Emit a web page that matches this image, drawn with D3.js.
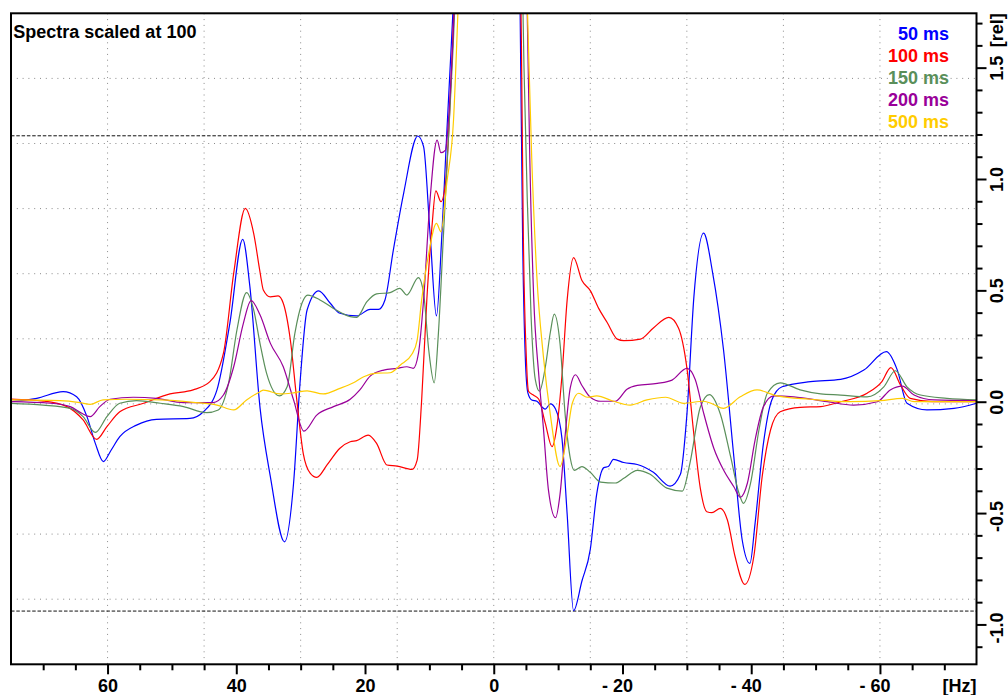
<!DOCTYPE html>
<html><head><meta charset="utf-8">
<script src="https://cdn.jsdelivr.net/npm/d3@7"></script>
<style>
body{margin:0;background:#fff}
svg text{font-family:"Liberation Sans",Arial,Helvetica,sans-serif;font-weight:bold}
</style>
</head><body>
<svg id="c" width="1008" height="695"></svg>
<script>
// ---------- data ----------
const hzDomain = [75, -75];
const relDomain = [-1.179, 1.744];
const xTickValues = [60, 40, 20, 0, -20, -40, -60];
const xTickLabels = ["60", "40", "20", "0", "- 20", "- 40", "- 60"];
const xMinorTicks = [70,65,55,50,45,35,30,25,15,10,5,-5,-10,-15,-25,-30,-35,-45,-50,-55,-65,-70];
const xGridValues = [60, 45, 30, 15, 0, -15, -30, -45, -60];
const yTickValues = [1.5, 1.0, 0.5, 0.0, -0.5, -1.0];
const yTickLabels = ["1.5", "1.0", "0.5", "0.0", "-0.5", "-1.0"];
const thresholds = [1.194, -0.940];
const seriesNames = ["50 ms", "100 ms", "150 ms", "200 ms", "500 ms"];
const seriesColors = ["#0000ff", "#ff0000", "#5a8f5a", "#990099", "#ffcc00"];
const titleText = "Spectra scaled at 100";

const s50 = [[75,0.0],[71,0.015],[66.9,0.045],[64.8,0.022],[63.2,-0.067],[61.9,-0.187],[60.65,-0.269],[59.5,-0.22],[58.1,-0.157],[55.5,-0.105],[52.4,-0.079],[47.2,-0.075],[45.1,-0.045],[43.0,0.053],[41.0,0.352],[39.0,0.729],[37.9,0.52],[36.3,-0.03],[34.7,-0.337],[32.5,-0.629],[31.1,-0.366],[30.1,0.083],[29.0,0.412],[27.2,0.498],[25.4,0.442],[23.9,0.397],[21.3,0.385],[19.2,0.415],[17.9,0.415],[16.9,0.457],[15.6,0.681],[14.0,0.936],[11.8,1.193],[10.9,1.145],[9.9,0.756],[8.9,0.385],[8.05,0.756],[7.3,1.205],[6.6,1.6],[5.5,2.3],[3,5],[0,9],[-3,5],[-3.8,2.4],[-4.1,1.745],[-4.5,0.7],[-4.9,0.2],[-5.3,0.04],[-5.9,0.008],[-6.7,0.002],[-8.0,-0.033],[-8.8,-0.010],[-9.6,-0.033],[-10.6,-0.166],[-11.4,-0.503],[-12.4,-0.938],[-13.7,-0.805],[-15.0,-0.663],[-16.0,-0.414],[-17.1,-0.296],[-17.8,-0.291],[-18.6,-0.259],[-20.2,-0.273],[-22.3,-0.282],[-24.8,-0.317],[-27.4,-0.379],[-29.0,-0.326],[-30.0,-0.060],[-31.1,0.473],[-32.6,0.757],[-34.0,0.58],[-35.7,0.232],[-37.3,-0.247],[-38.6,-0.621],[-39.8,-0.726],[-40.6,-0.546],[-41.9,-0.187],[-43.2,0.008],[-44.8,0.067],[-49.2,0.090],[-53.9,0.100],[-57.5,0.142],[-61.0,0.225],[-62.7,0.142],[-64.2,-0.007],[-67.3,-0.037],[-71.5,-0.030],[-75,-0.007]];

const s100 = [[75,0.012],[70,0.003],[66.3,-0.022],[63.8,-0.082],[61.7,-0.169],[60.1,-0.112],[58.1,-0.045],[54.4,-0.007],[50.3,0.035],[46.7,0.053],[44.1,0.090],[42.0,0.217],[40.4,0.577],[38.6,0.868],[37.3,0.756],[36.3,0.58],[35.8,0.502],[34.7,0.471],[33.5,0.475],[32.7,0.442],[31.6,0.277],[30.6,0.008],[29.6,-0.232],[28.5,-0.322],[27.5,-0.340],[25.9,-0.284],[23.9,-0.209],[22.3,-0.180],[21.3,-0.175],[19.5,-0.150],[18.2,-0.187],[16.6,-0.284],[15.0,-0.289],[12.7,-0.304],[11.9,-0.262],[11.2,0.008],[10.4,0.457],[9.6,0.786],[9.0,0.947],[8.2,0.898],[7.5,0.981],[7.0,1.205],[6.4,1.6],[5.5,2.3],[3,5],[0,9],[-3,5],[-4.0,2.3],[-4.3,1.6],[-4.6,0.739],[-5.05,0.207],[-5.4,0.047],[-6.2,0.029],[-7.0,0.011],[-8.0,-0.096],[-9.05,-0.202],[-9.8,-0.113],[-10.6,0.118],[-11.4,0.455],[-12.4,0.647],[-13.7,0.544],[-15.0,0.499],[-16.3,0.419],[-17.6,0.357],[-19.2,0.281],[-20.2,0.274],[-22.8,0.281],[-24.8,0.331],[-27.2,0.379],[-28.7,0.331],[-30.0,0.153],[-31.1,-0.149],[-32.1,-0.39],[-33.1,-0.494],[-33.9,-0.498],[-35.2,-0.479],[-36.3,-0.531],[-37.5,-0.696],[-39.0,-0.820],[-40.4,-0.696],[-41.7,-0.337],[-43.0,-0.127],[-44.5,-0.045],[-47.6,-0.025],[-50.8,-0.022],[-53.9,0.0],[-58.0,0.038],[-60.3,0.090],[-61.7,0.153],[-63.2,0.075],[-64.7,0.015],[-68.4,0.0],[-75,0.0]];

const s150 = [[75,-0.007],[70,-0.015],[65.8,-0.030],[63.8,-0.067],[61.9,-0.138],[60.1,-0.067],[58.1,-0.007],[55.5,0.005],[51.8,-0.007],[48.2,-0.022],[44.6,-0.049],[42.8,-0.037],[41.2,0.083],[39.9,0.322],[38.4,0.490],[37.3,0.412],[36.3,0.26],[35.3,0.128],[33.3,0.026],[32.1,0.067],[30.9,0.307],[29.8,0.442],[28.9,0.479],[27.0,0.457],[24.9,0.419],[22.3,0.382],[21.3,0.379],[19.7,0.449],[18.2,0.484],[16.1,0.490],[14.6,0.509],[13.5,0.479],[11.7,0.557],[10.9,0.487],[10.1,0.232],[9.25,0.085],[8.6,0.307],[7.8,0.756],[7.0,1.205],[6.3,1.6],[5.3,2.3],[3,5],[0,9],[-3,5],[-4.2,2.3],[-4.7,1.5],[-5.2,0.916],[-5.8,0.384],[-6.45,0.100],[-7.1,0.047],[-8.0,0.153],[-8.8,0.313],[-9.4,0.393],[-10.3,0.260],[-11.1,-0.060],[-11.9,-0.255],[-12.5,-0.308],[-13.7,-0.291],[-15.0,-0.317],[-16.6,-0.361],[-18.9,-0.365],[-20.2,-0.344],[-22.3,-0.308],[-24.3,-0.326],[-26.9,-0.388],[-29.3,-0.401],[-30.5,-0.273],[-32.1,-0.024],[-33.5,0.032],[-35.2,-0.055],[-36.8,-0.247],[-38.1,-0.411],[-38.8,-0.456],[-39.9,-0.366],[-41.2,-0.127],[-42.5,0.038],[-44.5,0.085],[-47.6,0.053],[-50.8,0.035],[-53.9,0.030],[-58.0,0.022],[-60.6,0.067],[-62.4,0.139],[-64.2,0.067],[-66.3,0.030],[-70.4,0.015],[-75,0.008]];

const s200 = [[75,0.0],[68.9,-0.007],[65.8,-0.022],[64.0,-0.052],[62.7,-0.067],[61.2,-0.022],[59.6,0.011],[56.0,0.020],[52.4,0.015],[48.2,-0.004],[43.6,-0.004],[42.0,0.030],[40.4,0.157],[38.9,0.352],[37.7,0.454],[36.3,0.389],[34.7,0.262],[32.7,0.157],[31.1,0.008],[29.5,-0.132],[27.5,-0.060],[24.9,-0.022],[22.3,0.011],[20.8,0.053],[19.2,0.115],[17.1,0.142],[15.0,0.150],[13.5,0.157],[12.5,0.150],[11.7,0.217],[10.9,0.457],[9.9,0.906],[8.8,1.175],[8.2,1.118],[7.5,1.130],[7.0,1.280],[6.3,1.65],[5.3,2.4],[3,5],[0,9],[-3,5],[-4.5,2.5],[-5.2,1.745],[-5.6,1.094],[-6.2,0.473],[-7.0,0.118],[-7.7,-0.113],[-8.5,-0.397],[-9.6,-0.521],[-10.3,-0.415],[-11.1,-0.149],[-11.9,0.064],[-12.7,0.121],[-13.7,0.073],[-15.0,0.020],[-16.6,0.002],[-18.9,0.002],[-20.7,0.056],[-22.3,0.073],[-25.4,0.082],[-27.7,0.097],[-30.0,0.150],[-31.3,0.100],[-32.6,-0.05],[-34.2,-0.21],[-35.7,-0.307],[-37.3,-0.382],[-38.3,-0.429],[-39.4,-0.366],[-40.6,-0.172],[-41.9,-0.022],[-43.5,0.026],[-46.6,0.022],[-51.8,0.0],[-55.9,-0.015],[-59.6,0.0],[-61.6,0.053],[-63.5,0.070],[-65.3,0.030],[-68.4,0.008],[-75,0.005]];

const s500 = [[75,0.008],[67.4,0.005],[64.3,-0.004],[62.7,-0.012],[60.7,0.008],[57.0,0.011],[51.8,0.008],[46.7,-0.003],[43.0,-0.015],[40.4,-0.037],[38.4,0.008],[36.3,0.045],[35.8,0.052],[33.2,0.035],[31.1,0.040],[29.0,0.049],[26.5,0.035],[23.9,0.060],[21.8,0.085],[20.2,0.112],[18.2,0.128],[16.1,0.130],[14.5,0.165],[12.7,0.214],[11.9,0.277],[11.2,0.457],[10.1,0.666],[8.9,0.801],[8.2,0.763],[7.3,0.981],[6.25,1.265],[5.5,1.8],[4.5,2.6],[2.5,5],[0,9],[-3,5],[-4.6,2.4],[-5.25,1.745],[-5.9,1.094],[-6.7,0.561],[-7.7,0.207],[-8.8,-0.060],[-10.3,-0.291],[-11.4,-0.149],[-12.2,-0.007],[-13.2,0.038],[-14.5,0.020],[-16.0,0.026],[-18.6,0.002],[-21.2,-0.015],[-23.8,0.008],[-26.7,0.020],[-29.5,-0.007],[-32.6,0.002],[-34.0,-0.01],[-35.7,-0.030],[-38.3,0.022],[-40.9,0.053],[-44.0,0.026],[-49.2,0.011],[-55.4,0.0],[-60.1,0.005],[-63.5,0.015],[-65.3,0.0],[-75,0.0]];

const seriesData = [s50, s100, s150, s200, s500];

// ---------- layout ----------
const L = 11, R = 976.5, T = 13.3, B = 664.3;
const FS = 18;
const svg = d3.select("#c");
const x = d3.scaleLinear().domain(hzDomain).range([L, R]);
const y = d3.scaleLinear().domain(relDomain).range([B, T]);

svg.append("defs").append("clipPath").attr("id", "clip")
  .append("rect").attr("x", L).attr("y", T).attr("width", R - L).attr("height", B - T);

// grid (10 divisions)
const g = svg.append("g");
g.selectAll("line.vg").data(xGridValues).join("line")
  .attr("x1", d => x(d)).attr("x2", d => x(d)).attr("y1", T).attr("y2", B)
  .attr("stroke", "#8a8a8a").attr("stroke-width", 1).attr("stroke-dasharray", "1,4.8");
const yGrid = d3.range(1, 10).map(k => relDomain[1] - (relDomain[1] - relDomain[0]) * k / 10);
g.selectAll("line.hg").data(yGrid).join("line")
  .attr("x1", L).attr("x2", R).attr("y1", d => y(d)).attr("y2", d => y(d))
  .attr("stroke", "#8a8a8a").attr("stroke-width", 1).attr("stroke-dasharray", "1,4.8");

// threshold dashed lines
g.selectAll("line.th").data(thresholds).join("line")
  .attr("x1", L).attr("x2", R).attr("y1", d => y(d)).attr("y2", d => y(d))
  .attr("stroke", "#111").attr("stroke-width", 1).attr("stroke-dasharray", "3.5,1.8");

// curves
const line = d3.line().x(d => x(d[0])).y(d => y(d[1])).curve(d3.curveMonotoneX);
const cg = svg.append("g").attr("clip-path", "url(#clip)");
seriesData.forEach((s, i) => {
  cg.append("path").datum(s).attr("d", line)
    .attr("fill", "none").attr("stroke", seriesColors[i]).attr("stroke-width", 1.2)
    .attr("stroke-linejoin", "round");
});

// frame
svg.append("rect").attr("x", L).attr("y", T).attr("width", R - L).attr("height", B - T)
  .attr("fill", "none").attr("stroke", "#000").attr("stroke-width", 2);

// helper to measure
function measure(str) {
  const t = svg.append("text").attr("font-size", FS).text(str);
  const w = t.node().getComputedTextLength();
  t.remove();
  return w;
}

// bottom axis: minor ticks
svg.append("g").attr("transform", `translate(0,${B})`)
  .call(d3.axisBottom(x).tickValues(xMinorTicks).tickSize(6).tickFormat(""))
  .call(a => a.select(".domain").remove())
  .call(a => a.selectAll("line").attr("stroke", "#000").attr("stroke-width", 2));
// bottom axis: major ticks + labels
const xa = svg.append("g").attr("transform", `translate(0,${B})`)
  .call(d3.axisBottom(x).tickValues(xTickValues).tickSize(10).tickPadding(5)
    .tickFormat((d, i) => xTickLabels[i]))
  .call(a => a.select(".domain").remove())
  .call(a => a.selectAll("line").attr("stroke", "#000").attr("stroke-width", 2));
xa.selectAll("text").attr("font-size", FS).attr("fill", "#000")
  .attr("font-family", null).attr("dy", null).attr("y", 27.4)
  .each(function () {
    const full = measure(this.textContent);
    const num = measure(this.textContent.replace(/^-\s*/, ""));
    d3.select(this).attr("x", num / 2 - full / 2);
  });
svg.append("text").attr("x", R).attr("y", B + 27.4).attr("text-anchor", "end")
  .attr("font-size", FS).text("[Hz]");

// right axis: minor ticks
const yMinor = d3.range(-11, 18).map(v => v / 10).filter(v => Math.abs(v * 2 - Math.round(v * 2)) > 1e-6);
svg.append("g").attr("transform", `translate(${R},0)`)
  .call(d3.axisRight(y).tickValues(yMinor).tickSize(6).tickFormat(""))
  .call(a => a.select(".domain").remove())
  .call(a => a.selectAll("line").attr("stroke", "#000").attr("stroke-width", 2));
const ya = svg.append("g").attr("transform", `translate(${R},0)`)
  .call(d3.axisRight(y).tickValues(yTickValues).tickSize(10).tickFormat(""))
  .call(a => a.select(".domain").remove())
  .call(a => a.selectAll("line").attr("stroke", "#000").attr("stroke-width", 2));
ya.selectAll("g.tick").each(function (d, i) {
  const lab = yTickLabels[i];
  const full = measure(lab);
  const num = measure(lab.replace(/^-\s*/, ""));
  d3.select(this).append("text")
    .attr("transform", `translate(26.8,0) rotate(-90)`)
    .attr("text-anchor", "middle").attr("x", num / 2 - full / 2)
    .attr("font-size", FS).attr("fill", "#000").text(lab);
});
svg.append("text").attr("transform", `translate(${R + 26.8},${T}) rotate(-90)`)
  .attr("text-anchor", "end").attr("font-size", FS).text("[rel]");

// title
svg.append("text").attr("x", 13.3).attr("y", 38).attr("font-size", FS).text(titleText);

// legend
svg.append("g").selectAll("text").data(seriesNames).join("text")
  .attr("x", 949).attr("y", (d, i) => 40 + i * 21.9)
  .attr("text-anchor", "end").attr("font-size", FS)
  .attr("fill", (d, i) => seriesColors[i]).text(d => d);
</script>
</body></html>
